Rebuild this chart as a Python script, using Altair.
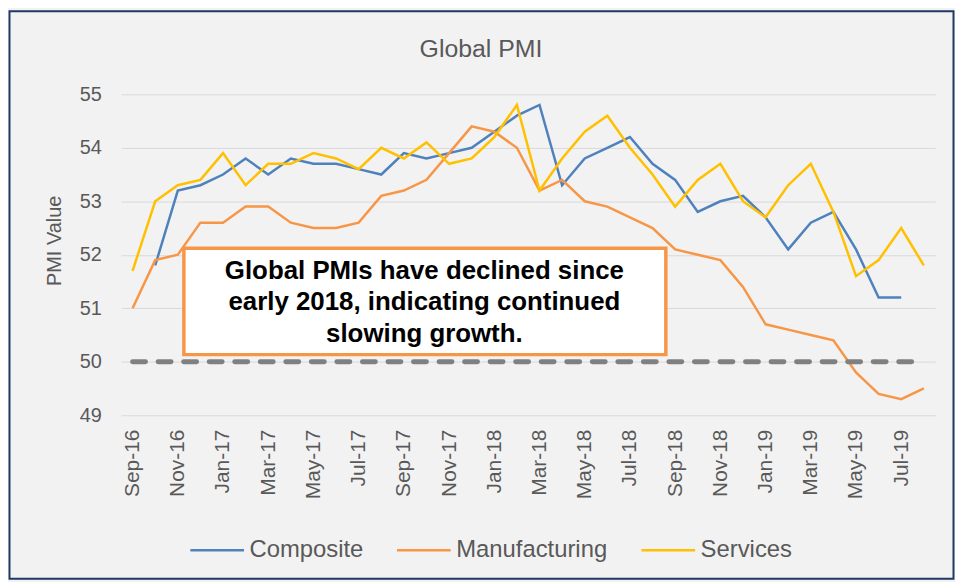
import altair as alt
import pandas as pd

months = ["Sep-16", "Oct-16", "Nov-16", "Dec-16", "Jan-17", "Feb-17", "Mar-17", "Apr-17",
          "May-17", "Jun-17", "Jul-17", "Aug-17", "Sep-17", "Oct-17", "Nov-17", "Dec-17",
          "Jan-18", "Feb-18", "Mar-18", "Apr-18", "May-18", "Jun-18", "Jul-18", "Aug-18",
          "Sep-18", "Oct-18", "Nov-18", "Dec-18", "Jan-19", "Feb-19", "Mar-19", "Apr-19",
          "May-19", "Jun-19", "Jul-19", "Aug-19"]

composite = [None, 51.8, 53.2, 53.3, 53.5, 53.8, 53.5, 53.8, 53.7, 53.7, 53.6, 53.5,
             53.9, 53.8, 53.9, 54.0, 54.3, 54.6, 54.8, 53.3, 53.8, 54.0, 54.2, 53.7,
             53.4, 52.8, 53.0, 53.1, 52.7, 52.1, 52.6, 52.8, 52.1, 51.2, 51.2, None]

manufacturing = [51.0, 51.9, 52.0, 52.6, 52.6, 52.9, 52.9, 52.6, 52.5, 52.5, 52.6, 53.1,
                 53.2, 53.4, 53.9, 54.4, 54.3, 54.0, 53.2, 53.4, 53.0, 52.9, 52.7, 52.5,
                 52.1, 52.0, 51.9, 51.4, 50.7, 50.6, 50.5, 50.4, 49.8, 49.4, 49.3, 49.5]

services = [51.7, 53.0, 53.3, 53.4, 53.9, 53.3, 53.7, 53.7, 53.9, 53.8, 53.6, 54.0,
            53.8, 54.1, 53.7, 53.8, 54.2, 54.8, 53.2, 53.8, 54.3, 54.6, 54.0, 53.5,
            52.9, 53.4, 53.7, 53.0, 52.7, 53.3, 53.7, 52.8, 51.6, 51.9, 52.5, 51.8]

series_names = ["Composite", "Manufacturing", "Services"]
series_colors = ["#4F81BD", "#F79646", "#FFC000"]
y_ticks = [49, 50, 51, 52, 53, 54, 55]
x_tick_labels = months[::2]
threshold = 50
chart_title = "Global PMI"
note_lines = ["Global PMIs have declined since",
              "early 2018, indicating continued",
              "slowing growth."]

FONT = "Liberation Sans"
GRAY = "#595959"

rows = []
for name, vals in zip(series_names, [composite, manufacturing, services]):
    for m, v in zip(months, vals):
        if v is not None:
            rows.append({"Month": m, "Series": name, "PMI": v})
df = pd.DataFrame(rows)

W, H = 819, 323
PAD = {"left": 114, "top": 85, "right": 20, "bottom": 166}

x_scale = alt.Scale(type="point", domain=months, padding=0.5)
y_scale = alt.Scale(domain=[49, 55], nice=False, zero=False)

one = pd.DataFrame({"k": [0]})

frame = alt.Chart(one).mark_rect(
    fill=None, stroke="#1F3864", strokeWidth=2
).encode(
    x=alt.value(-PAD["left"] + 1.5), x2=alt.value(W + PAD["right"] - 1.5),
    y=alt.value(-PAD["top"] + 1.5), y2=alt.value(H + PAD["bottom"] - 1.5)
)

title = alt.Chart(one).mark_text(
    align="center", baseline="alphabetic", font=FONT, fontSize=25, color=GRAY
).encode(x=alt.value(362), y=alt.value(-38), text=alt.value(chart_title))

lines = alt.Chart(df).mark_line(strokeWidth=2.5).encode(
    x=alt.X("Month:O", scale=x_scale, sort=months,
            axis=alt.Axis(values=x_tick_labels, labelAngle=270, title=None,
                          ticks=False, domain=False, grid=False,
                          labelFontSize=21, labelColor=GRAY, labelFont=FONT,
                          labelPadding=14)),
    y=alt.Y("PMI:Q", scale=y_scale,
            axis=alt.Axis(values=y_ticks, format="d", title="PMI Value", ticks=False,
                          domain=False,
                          grid=True, gridColor="#D9D9D9", gridWidth=1,
                          labelFontSize=20, labelColor=GRAY, labelFont=FONT,
                          labelPadding=20,
                          titleFontSize=20, titleColor=GRAY, titleFont=FONT,
                          titleFontWeight="normal", titleX=-67, titleY=147,
                          titleAlign="center", titleBaseline="middle", titleAngle=270)),
    color=alt.Color("Series:N", scale=alt.Scale(domain=series_names, range=series_colors),
                    legend=alt.Legend(title=None, orient="none", direction="horizontal",
                                      legendX=68, legendY=430,
                                      symbolType="stroke", symbolSize=2916,
                                      symbolStrokeWidth=2.5, columnPadding=28,
                                      labelFontSize=24, labelColor=GRAY, labelFont=FONT,
                                      labelOffset=4)),
    order=alt.Order("Series:N")
)

rule_df = pd.DataFrame({"start": [months[0]], "end": [months[-1]], "y": [threshold]})
rule = alt.Chart(rule_df).mark_rule(
    color="#808080", strokeWidth=5, strokeDash=[13, 12.7], strokeCap="round"
).encode(
    x=alt.X("start:O", scale=x_scale), x2="end:O", y=alt.Y("y:Q", scale=y_scale)
)

box = alt.Chart(one).mark_rect(
    fill="white", stroke="#F79646", strokeWidth=3.5
).encode(
    x=alt.value(63), x2=alt.value(548), y=alt.value(155), y2=alt.value(262)
)

note = alt.Chart(one).mark_text(
    align="center", baseline="alphabetic", font=FONT, fontSize=26, fontWeight="bold",
    color="black", lineHeight=31.5, lineBreak="\n"
).encode(
    x=alt.value(305), y=alt.value(186), text=alt.value("\n".join(note_lines))
)

chart = alt.layer(frame, title, lines, rule, box, note).properties(
    width=W, height=H, autosize="none", padding=PAD,
    background="#F2F2F2"
).configure_view(stroke=None)

chart.save("out.html", embed_options={"renderer": "svg", "actions": False})
